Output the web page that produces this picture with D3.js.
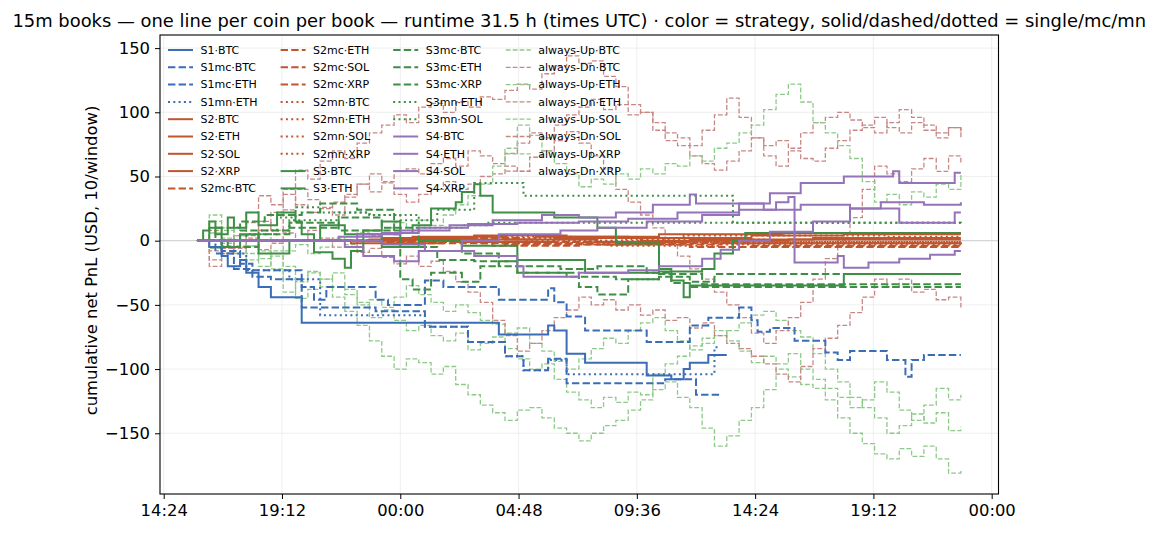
<!DOCTYPE html>
<html><head><meta charset="utf-8">
<script src="https://cdn.jsdelivr.net/npm/d3@7"></script>
<style>body{margin:0;background:#fff}svg{display:block;font-family:"DejaVu Sans",sans-serif}</style>
</head><body><svg id="c" width="1155" height="534"></svg>
<script>
// ---------- axes / ticks ----------
const START = "2025-06-10T15:45:00Z";            // first 15m window
const X_DOMAIN = ["2025-06-10T14:15:00Z", "2025-06-12T00:16:36Z"];
const Y_DOMAIN = [-197.3, 160.2];
const xTickTimes = ["2025-06-10T14:24:00Z","2025-06-10T19:12:00Z","2025-06-11T00:00:00Z","2025-06-11T04:48:00Z","2025-06-11T09:36:00Z","2025-06-11T14:24:00Z","2025-06-11T19:12:00Z","2025-06-12T00:00:00Z"];
const xTickLabels = ["14:24","19:12","00:00","04:48","09:36","14:24","19:12","00:00"];
const yTicks = [-150,-100,-50,0,50,100,150];
const yTickLabels = ["\u2212150","\u2212100","\u221250","0","50","100","150"];
const titleText = "15m books \u2014 one line per coin per book \u2014 runtime 31.5 h (times UTC) \u00b7 color = strategy, solid/dashed/dotted = single/mc/mn";
const yLabelText = "cumulative net PnL (USD, 10/window)";

// ---------- strategy books: [15m window index, cumulative PnL] step breakpoints ----------
const S1_BTC   = [[0,0],[2,-5],[4,-12],[5,-20],[7,-15],[8,-25],[10,-36],[12,-44],[17,-64],[49,-73],[57,-66],[58,-70],[60,-88],[63,-95],[73,-105],[77,-108],[79,-100],[80,-95],[83,-89],[86,-89]];
const S1mc_BTC = [[0,0],[3,-10],[6,-22],[9,-28],[12,-30],[17,-36],[19,-46],[21,-36],[29,-46],[31,-50],[37,-31],[40,-36],[49,-46],[57,-37],[58,-48],[60,-59],[63,-70],[73,-79],[80,-66],[83,-60],[88,-52],[90,-62],[91,-71],[93,-68],[97,-78],[102,-87],[104,-93],[106,-86],[112,-93],[115,-106],[116,-93],[118,-89],[124,-89]];
const S1mc_ETH = [[0,0],[4,-8],[7,-18],[9,-23],[17,-52],[29,-55],[37,-67],[44,-79],[50,-90],[53,-101],[57,-92],[60,-111],[76,-108],[81,-120],[85,-120]];
const S1mn_ETH = [[0,0],[4,-10],[8,-23],[15,-30],[20,-58],[29,-58],[37,-67],[44,-79],[50,-90],[53,-101],[57,-93],[60,-104],[75,-104],[83,-104],[84,-83],[85,-83]];
const S2_BTC   = [[0,0],[30,2],[45,4],[60,3],[75,5],[95,6],[124,6]];
const S2_ETH   = [[0,0],[25,-2],[40,1],[55,3],[70,2],[90,4],[105,5],[124,5]];
const S2_SOL   = [[0,0],[35,3],[50,1],[65,-1],[80,1],[100,2],[124,2]];
const S2_XRP   = [[0,0],[28,1],[42,-1],[58,2],[72,0],[96,1],[124,1]];
const S2mc_BTC = [[0,0],[32,-2],[48,-4],[62,-3],[80,-5],[124,-5]];
const S2mc_ETH = [[0,0],[30,-1],[50,-3],[70,-2],[90,-4],[124,-4]];
const S2mc_SOL = [[0,0],[36,2],[52,-1],[66,-3],[85,-2],[124,-3]];
const S2mc_XRP = [[0,0],[34,-1],[46,-2],[64,-1],[88,-2],[124,-2]];
const S2mn_BTC = [[0,0],[33,1],[47,3],[61,2],[79,4],[112,3],[124,3]];
const S2mn_ETH = [[0,0],[31,-1],[49,-2],[67,-4],[85,-3],[124,-3]];
const S2mn_SOL = [[0,0],[37,2],[53,0],[69,1],[92,-1],[124,-1]];
const S2mn_XRP = [[0,0],[29,0],[44,2],[59,0],[77,-1],[124,-1]];
const S3_BTC   = [[0,0],[1,8],[2,15],[3,5],[5,18],[6,10],[8,22],[10,12],[13,22],[16,15],[17,5],[19,-9],[22,-14],[24,-21],[25,-8],[27,8],[30,15],[33,6],[35,12],[38,25],[42,30],[43,38],[45,44],[46,35],[48,22],[58,18],[65,10],[68,-2],[75,-22],[77,-31],[79,-44],[80,-35],[105,-26],[124,-26]];
const S3_ETH   = [[0,0],[2,10],[4,-5],[7,5],[10,-10],[15,0],[20,12],[24,5],[30,-5],[36,0],[43,-4],[52,-15],[60,-15],[63,-25],[75,-24],[82,-22],[84,-10],[87,0],[89,6],[124,6]];
const S3mc_BTC = [[0,0],[3,10],[7,15],[11,20],[17,22],[20,29],[26,24],[32,5],[33,-30],[35,-38],[38,-25],[43,-32],[46,-20],[49,-16],[52,-25],[62,-36],[65,-42],[70,-30],[75,-28],[80,-32],[84,-26],[124,-26]];
const S3mc_ETH = [[0,0],[5,-5],[10,5],[15,10],[23,18],[30,10],[36,0],[43,-10],[49,-20],[59,-22],[65,-20],[73,-25],[77,-33],[80,-36],[124,-36]];
const S3mc_XRP = [[0,0],[7,8],[15,14],[23,8],[33,-5],[39,-15],[45,-16],[52,-25],[60,-28],[68,-30],[75,-26],[82,-34],[124,-34]];
const S3mn_ETH = [[0,0],[8,5],[13,18],[16,26],[20,22],[28,20],[33,16],[39,24],[45,45],[53,35],[87,14],[124,14]];
const S3mn_SOL = [[0,0],[10,8],[15,16],[23,22],[28,20],[36,10],[43,12],[47,14],[124,13]];
const S4_BTC   = [[0,0],[20,0],[23,3],[30,6],[36,10],[44,13],[52,14],[62,15],[70,17],[78,22],[88,29],[93,37],[98,45],[105,50],[113,54],[114,45],[122,45],[123,53],[124,53]];
const S4_ETH   = [[0,0],[21,0],[24,-5],[27,-12],[32,-16],[36,-8],[43,0],[49,5],[59,8],[65,10],[73,15],[82,20],[88,24],[94,30],[96,34],[97,-17],[103,-17],[104,-12],[105,-21],[109,-17],[114,-14],[119,-11],[123,-8],[124,-8]];
const S4_SOL   = [[0,0],[23,0],[30,-3],[37,-8],[45,-12],[52,-20],[53,-28],[62,-25],[70,-23],[75,-20],[82,-14],[85,-7],[88,0],[93,7],[100,15],[106,25],[113,25],[114,14],[122,14],[123,22],[124,22]];
const S4_XRP   = [[0,0],[20,0],[26,5],[33,8],[41,12],[48,16],[56,20],[62,18],[68,22],[74,28],[80,36],[81,29],[92,24],[98,28],[106,25],[111,30],[118,28],[124,30]];

// ---------- always-Up / always-Dn baselines: cumulative PnL every 30 min ----------
const UP_BTC = [0,-6,2,-10,-4,-14,-8,-20,-30,-24,-36,-44,-55,-66,-78,-90,-100,-92,-95,-104,-98,-112,-120,-128,-134,-140,-132,-130,-138,-146,-150,-156,-150,-144,-140,-132,-124,-116,-110,-122,-130,-146,-160,-152,-140,-130,-116,-100,-106,-112,-115,-124,-138,-150,-158,-166,-170,-162,-168,-160,-170,-181,-178];
const DN_BTC = [0,8,-4,10,22,35,28,40,55,48,62,70,64,76,84,90,98,92,104,107,100,108,104,112,110,117,122,118,130,136,144,138,140,128,120,106,100,92,84,80,74,86,98,111,96,80,66,58,70,64,62,72,78,86,90,96,88,84,92,86,80,88,85];
const UP_ETH = [0,15,8,-4,-15,-8,-22,-40,-32,-25,-30,-25,-38,-48,-60,-54,-62,-70,-66,-74,-78,-72,-85,-80,-75,-84,-92,-100,-96,-108,-118,-124,-130,-122,-126,-118,-120,-104,-96,-90,-82,-76,-70,-78,-86,-95,-90,-96,-88,-100,-108,-115,-122,-130,-124,-110,-118,-132,-140,-128,-115,-124,-120];
const DN_ETH = [0,-15,-6,4,14,8,22,36,28,22,26,20,34,44,52,46,54,56,52,60,64,58,70,66,60,68,76,84,80,90,98,104,110,102,106,98,100,86,78,74,66,60,55,62,70,80,74,78,72,84,92,96,100,94,88,84,92,102,96,90,84,88,80];
const UP_SOL = [0,20,10,0,-10,-20,-12,-30,-45,-38,-30,-36,-42,-50,-46,-52,-44,-35,-42,-48,-55,-50,-56,-62,-65,-72,-68,-80,-86,-94,-100,-92,-84,-76,-80,-70,-64,-60,-70,-78,-85,-80,-74,-70,-64,-58,-55,-62,-70,-75,-88,-100,-110,-122,-130,-138,-150,-144,-135,-142,-134,-148,-145];
const DN_SOL = [0,-20,-10,-5,4,15,8,24,40,32,25,30,36,44,38,45,36,30,36,40,46,40,44,50,52,58,54,65,70,78,85,76,66,56,40,30,20,10,0,-12,-22,-30,-40,-50,-60,-72,-80,-70,-60,-48,-30,-14,0,18,40,58,52,46,56,64,54,66,60];
const UP_XRP = [0,6,-2,4,-4,5,0,-8,-3,-10,-5,2,-3,6,4,10,14,8,16,12,20,28,35,44,58,72,90,82,70,60,52,42,48,44,52,48,56,52,60,58,66,62,72,76,84,90,102,114,122,108,92,84,74,64,46,30,36,28,38,34,44,40,52];
const DN_XRP = [0,-8,0,-6,2,-7,-2,6,0,8,2,-5,0,-9,-6,-13,-18,-12,-20,-16,-24,-32,-40,-48,-62,-74,-86,-80,-70,-60,-54,-44,-50,-46,-54,-50,-58,-54,-62,-60,-68,-64,-74,-80,-84,-90,-96,-104,-110,-98,-84,-76,-66,-56,-44,-30,-36,-30,-40,-38,-46,-44,-52];

const stepBooks = [
  ["S1\u00b7BTC",S1_BTC],["S1mc\u00b7BTC",S1mc_BTC],["S1mc\u00b7ETH",S1mc_ETH],["S1mn\u00b7ETH",S1mn_ETH],
  ["S2\u00b7BTC",S2_BTC],["S2\u00b7ETH",S2_ETH],["S2\u00b7SOL",S2_SOL],["S2\u00b7XRP",S2_XRP],
  ["S2mc\u00b7BTC",S2mc_BTC],["S2mc\u00b7ETH",S2mc_ETH],["S2mc\u00b7SOL",S2mc_SOL],["S2mc\u00b7XRP",S2mc_XRP],
  ["S2mn\u00b7BTC",S2mn_BTC],["S2mn\u00b7ETH",S2mn_ETH],["S2mn\u00b7SOL",S2mn_SOL],["S2mn\u00b7XRP",S2mn_XRP],
  ["S3\u00b7BTC",S3_BTC],["S3\u00b7ETH",S3_ETH],["S3mc\u00b7BTC",S3mc_BTC],["S3mc\u00b7ETH",S3mc_ETH],["S3mc\u00b7XRP",S3mc_XRP],
  ["S3mn\u00b7ETH",S3mn_ETH],["S3mn\u00b7SOL",S3mn_SOL],
  ["S4\u00b7BTC",S4_BTC],["S4\u00b7ETH",S4_ETH],["S4\u00b7SOL",S4_SOL],["S4\u00b7XRP",S4_XRP]
];
const alwaysBooks = [
  ["always-Up\u00b7BTC",UP_BTC],["always-Dn\u00b7BTC",DN_BTC],["always-Up\u00b7ETH",UP_ETH],["always-Dn\u00b7ETH",DN_ETH],
  ["always-Up\u00b7SOL",UP_SOL],["always-Dn\u00b7SOL",DN_SOL],["always-Up\u00b7XRP",UP_XRP],["always-Dn\u00b7XRP",DN_XRP]
];

// ---------- styling (derived from the names) ----------
const COLORS = {S1:"#3a6db5", S2:"#c0562e", S3:"#3e8f45", S4:"#9473b8", Up:"#8dca89", Dn:"#c78785"};
function styleOf(name){
  if (name.startsWith("always")) {
    const up = name.includes("-Up");
    return {color: up?COLORS.Up:COLORS.Dn, width:1.3, dash:"4.8,2.1"};
  }
  const strat = name.slice(0,2);
  const book = name.split("\u00b7")[0].slice(2);
  const dash = book==="mc" ? "7.4,3.2" : book==="mn" ? "2,3.3" : null;
  return {color: COLORS[strat], width:2, dash};
}

// ---------- build ----------
const M={l:160, r:998.5, t:35, b:494};
const svg = d3.select("#c");
const t0 = new Date(START);
const tAt = mins => new Date(t0.getTime()+mins*60000);
const x = d3.scaleUtc().domain(X_DOMAIN.map(d=>new Date(d))).range([M.l,M.r]);
const y = d3.scaleLinear().domain(Y_DOMAIN).range([M.b,M.t]);
const xTicks = xTickTimes.map(d=>new Date(d));

svg.append("defs").append("clipPath").attr("id","clip").append("rect")
  .attr("x",M.l).attr("y",M.t).attr("width",M.r-M.l).attr("height",M.b-M.t);

// grid
const grid = svg.append("g");
grid.selectAll("line.gx").data(xTicks).join("line").attr("class","gx")
  .attr("x1",d=>x(d)).attr("x2",d=>x(d)).attr("y1",M.t).attr("y2",M.b)
  .attr("stroke","#ebebeb").attr("stroke-width",0.8);
grid.selectAll("line.gy").data(yTicks).join("line").attr("class","gy")
  .attr("x1",M.l).attr("x2",M.r).attr("y1",d=>y(d)).attr("y2",d=>y(d))
  .attr("stroke","#ebebeb").attr("stroke-width",0.8);
grid.append("line").attr("x1",M.l).attr("x2",M.r).attr("y1",y(0)).attr("y2",y(0))
  .attr("stroke","#cfcfcf").attr("stroke-width",1);

const line = d3.line().x(d=>x(d.t)).y(d=>y(d.v)).curve(d3.curveStepAfter);
const plot = svg.append("g").attr("clip-path","url(#clip)");

const alwaysSeries = alwaysBooks.map(([name,vals])=>({name, pts: vals.map((v,k)=>({t:tAt(k*30), v}))}));
const stepSeries = stepBooks.map(([name,bp])=>({name, pts: bp.map(([i,v])=>({t:tAt(i*15), v}))}));

function drawSeries(list){
  list.forEach(s=>{
    const st = styleOf(s.name);
    plot.append("path").datum(s.pts).attr("d",line).attr("fill","none")
      .attr("stroke",st.color).attr("stroke-width",st.width)
      .attr("stroke-dasharray",st.dash).attr("stroke-linejoin","miter");
  });
}
drawSeries(alwaysSeries);
drawSeries(stepSeries);

// axes
const xAxis = svg.append("g").attr("transform",`translate(0,${M.b})`)
  .call(d3.axisBottom(x).tickValues(xTicks).tickFormat((d,i)=>xTickLabels[i]).tickSize(5).tickPadding(5).tickSizeOuter(0));
const yAxis = svg.append("g").attr("transform",`translate(${M.l},0)`)
  .call(d3.axisLeft(y).tickValues(yTicks).tickFormat((d,i)=>yTickLabels[i]).tickSize(5).tickPadding(5).tickSizeOuter(0));
[xAxis,yAxis].forEach(a=>{
  a.select(".domain").remove();
  a.selectAll("text").attr("font-size",16.4).attr("fill","#000").attr("font-family","DejaVu Sans");
  a.selectAll("line").attr("stroke","#000").attr("stroke-width",1);
});
svg.append("rect").attr("x",M.l).attr("y",M.t).attr("width",M.r-M.l).attr("height",M.b-M.t)
  .attr("fill","none").attr("stroke","#000").attr("stroke-width",1.1);

// title & y label
svg.append("text").attr("x",(M.l+M.r)/2).attr("y",27).attr("text-anchor","middle")
  .attr("font-size",17.9).attr("fill","#000").text(titleText);
svg.append("text").attr("transform",`translate(91,${(M.t+M.b)/2-4}) rotate(-90)`)
  .attr("text-anchor","middle").attr("dominant-baseline","central")
  .attr("font-size",16.4).attr("fill","#000").text(yLabelText);

// legend (4 columns, column-major)
const legendNames = stepBooks.map(d=>d[0]).concat(alwaysBooks.map(d=>d[0]));
const rows = Math.ceil(legendNames.length/4);
const lg = svg.append("g");
legendNames.forEach((name,i)=>{
  const col = Math.floor(i/rows), row = i%rows;
  const lx = 168 + col*112.6, ly = 50 + row*17.3;
  const st = styleOf(name);
  lg.append("line").attr("x1",lx).attr("x2",lx+25).attr("y1",ly).attr("y2",ly)
    .attr("stroke",st.color).attr("stroke-width",st.width).attr("stroke-dasharray",st.dash);
  lg.append("text").attr("x",lx+32.5).attr("y",ly).attr("dy","0.35em")
    .attr("font-size",11).attr("fill","#000").text(name);
});
</script></body></html>
